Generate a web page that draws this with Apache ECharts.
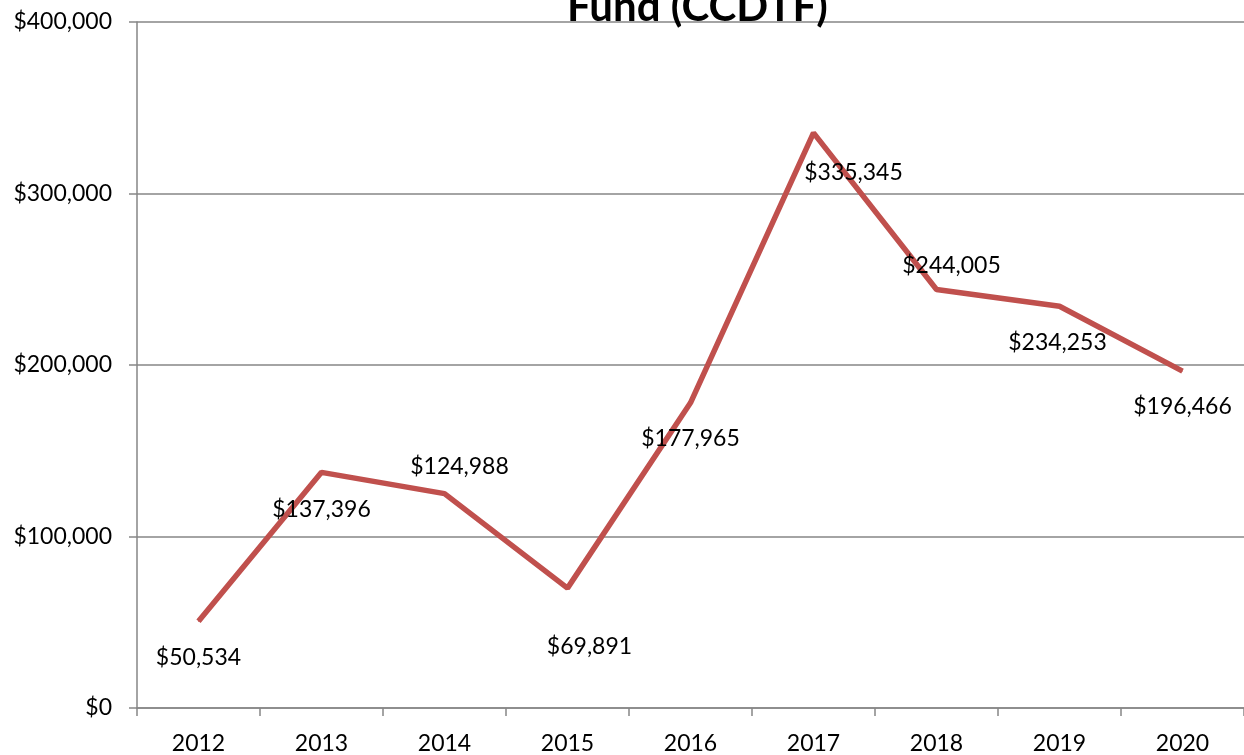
<!DOCTYPE html>
<html>
<head>
<meta charset="utf-8">
<script src="https://cdn.jsdelivr.net/npm/echarts@6/dist/echarts.min.js"></script>
<style>
  html, body { margin: 0; padding: 0; background: #fff; }
  #chart { width: 1244px; height: 755px; }
</style>
</head>
<body>
<div id="chart"></div>
<script>
// data
const years = ['2012', '2013', '2014', '2015', '2016', '2017', '2018', '2019', '2020']
const funding = [50534, 137396, 124988, 69891, 177965, 335345, 244005, 234253, 196466]
// where each value label sits relative to its point (px)
const labelOffsets = [[0, 36], [0, 37], [15, -27], [22, 58], [0, 36], [40, 40], [15, -24], [-2, 36], [0, 36]]

const fmt = (v) => '$' + v.toLocaleString('en-US')
const font = 'Lato, "Open Sans", sans-serif'

const chart = echarts.init(document.getElementById('chart'))
chart.setOption({
  animation: false,
  title: {
    text: 'Fund (CCDTF)',
    left: 562,
    top: -19,
    textStyle: { fontFamily: font, fontSize: 42, fontWeight: 'bold', color: '#000' }
  },
  grid: { left: 137, right: 0, top: 22, bottom: 47 },
  xAxis: {
    type: 'category',
    data: years,
    boundaryGap: true,
    axisLine: { lineStyle: { color: '#868686', width: 1.5 } },
    axisTick: { show: true, length: 8, lineStyle: { color: '#868686', width: 1.5 } },
    axisLabel: { color: '#000', fontFamily: font, fontSize: 23, margin: 24 }
  },
  yAxis: {
    type: 'value',
    min: 0,
    max: 400000,
    interval: 100000,
    axisLine: { show: true, lineStyle: { color: '#868686', width: 1.5 } },
    axisTick: { show: true, length: 8, lineStyle: { color: '#868686', width: 1.5 } },
    splitLine: { lineStyle: { color: '#868686', width: 1.5 } },
    axisLabel: { color: '#000', fontFamily: font, fontSize: 23, margin: 25, formatter: fmt }
  },
  series: [
    {
      type: 'line',
      data: funding.map((v, i) => ({
        value: v,
        label: { offset: labelOffsets[i] }
      })),
      symbol: 'circle',
      symbolSize: 1,
      lineStyle: { color: '#C0504D', width: 5.5 },
      itemStyle: { color: '#C0504D' },
      label: {
        show: true,
        position: 'inside',
        color: '#000',
        fontFamily: font,
        fontSize: 23,
        formatter: (p) => fmt(p.value)
      }
    }
  ]
})
</script>
</body>
</html>
